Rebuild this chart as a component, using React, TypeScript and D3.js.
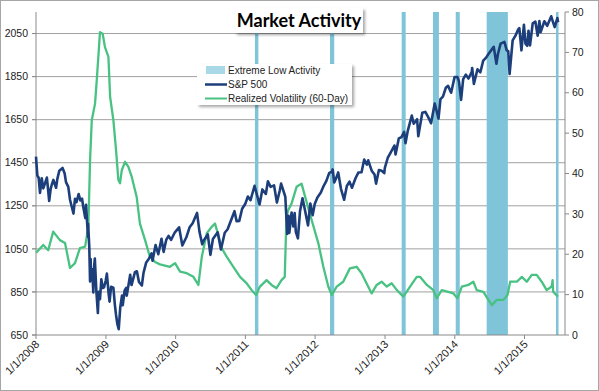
import * as d3 from "d3";

// S&P 500 closes (left axis)
const spx: [string, number][] = [
  ["2008-01-01", 1478], ["2008-01-08", 1390], ["2008-01-15", 1380], ["2008-01-22", 1310],
  ["2008-01-31", 1378], ["2008-02-08", 1331], ["2008-02-15", 1349], ["2008-02-27", 1381],
  ["2008-03-10", 1273], ["2008-03-18", 1330], ["2008-03-24", 1349], ["2008-04-01", 1370],
  ["2008-04-15", 1334], ["2008-04-22", 1376], ["2008-05-02", 1413], ["2008-05-19", 1426],
  ["2008-05-30", 1400], ["2008-06-06", 1360], ["2008-06-18", 1338], ["2008-06-27", 1278],
  ["2008-07-15", 1214], ["2008-07-23", 1282], ["2008-07-31", 1267], ["2008-08-11", 1305],
  ["2008-08-20", 1275], ["2008-08-29", 1283], ["2008-09-05", 1242], ["2008-09-15", 1193],
  ["2008-09-19", 1255], ["2008-09-29", 1106], ["2008-09-30", 1166], ["2008-10-06", 1056],
  ["2008-10-10", 899], ["2008-10-13", 1003], ["2008-10-15", 908], ["2008-10-21", 955],
  ["2008-10-27", 848], ["2008-10-31", 968], ["2008-11-04", 1005], ["2008-11-12", 852],
  ["2008-11-20", 752], ["2008-11-24", 851], ["2008-12-01", 816], ["2008-12-08", 909],
  ["2008-12-15", 868], ["2008-12-22", 871], ["2008-12-31", 903],
  ["2009-01-06", 935], ["2009-01-15", 843], ["2009-01-20", 805], ["2009-01-28", 874],
  ["2009-02-09", 870], ["2009-02-17", 789], ["2009-02-23", 743], ["2009-03-02", 700],
  ["2009-03-09", 677], ["2009-03-17", 778], ["2009-03-26", 833], ["2009-03-30", 788],
  ["2009-04-09", 857], ["2009-04-17", 869], ["2009-04-20", 833], ["2009-05-08", 930],
  ["2009-05-15", 882], ["2009-06-02", 942], ["2009-06-12", 946], ["2009-06-23", 896],
  ["2009-07-08", 880], ["2009-07-17", 940], ["2009-07-31", 987], ["2009-08-14", 1004],
  ["2009-08-28", 1029], ["2009-09-02", 995], ["2009-09-18", 1068], ["2009-10-02", 1025],
  ["2009-10-19", 1097], ["2009-10-30", 1036], ["2009-11-13", 1093], ["2009-11-25", 1110],
  ["2009-12-08", 1092], ["2009-12-28", 1127],
  ["2010-01-19", 1150], ["2010-02-05", 1066], ["2010-02-26", 1104], ["2010-03-15", 1150],
  ["2010-03-31", 1169], ["2010-04-23", 1217], ["2010-05-06", 1128], ["2010-05-20", 1071],
  ["2010-05-28", 1089], ["2010-06-18", 1117], ["2010-07-02", 1022], ["2010-07-15", 1096],
  ["2010-08-09", 1127], ["2010-08-26", 1047], ["2010-09-15", 1125], ["2010-09-30", 1141],
  ["2010-10-15", 1176], ["2010-11-05", 1225], ["2010-11-16", 1178], ["2010-11-30", 1180],
  ["2010-12-15", 1236], ["2010-12-31", 1258],
  ["2011-01-14", 1293], ["2011-01-28", 1276], ["2011-02-18", 1343], ["2011-03-01", 1306],
  ["2011-03-16", 1256], ["2011-03-31", 1326], ["2011-04-18", 1305], ["2011-04-29", 1364],
  ["2011-05-13", 1338], ["2011-05-31", 1345], ["2011-06-15", 1265], ["2011-06-30", 1321],
  ["2011-07-07", 1353], ["2011-07-29", 1292], ["2011-08-08", 1119], ["2011-08-15", 1204],
  ["2011-08-19", 1124], ["2011-08-31", 1219], ["2011-09-09", 1154], ["2011-09-16", 1216],
  ["2011-09-22", 1129], ["2011-10-03", 1099], ["2011-10-14", 1225], ["2011-10-27", 1285],
  ["2011-11-09", 1229], ["2011-11-25", 1159], ["2011-12-07", 1261], ["2011-12-19", 1206],
  ["2011-12-30", 1258],
  ["2012-01-13", 1289], ["2012-01-31", 1312], ["2012-02-15", 1343], ["2012-02-29", 1366],
  ["2012-03-15", 1403], ["2012-03-30", 1408], ["2012-04-02", 1419], ["2012-04-10", 1358],
  ["2012-04-20", 1378], ["2012-05-01", 1405], ["2012-05-15", 1330], ["2012-06-01", 1278],
  ["2012-06-15", 1342], ["2012-06-29", 1362], ["2012-07-12", 1334], ["2012-07-31", 1379],
  ["2012-08-15", 1405], ["2012-08-31", 1406], ["2012-09-14", 1465], ["2012-09-28", 1441],
  ["2012-10-05", 1461], ["2012-10-23", 1413], ["2012-11-07", 1395], ["2012-11-15", 1353],
  ["2012-11-30", 1416], ["2012-12-14", 1413], ["2012-12-28", 1402], ["2012-12-31", 1426],
  ["2013-01-15", 1472], ["2013-01-31", 1498], ["2013-02-19", 1530], ["2013-02-25", 1488],
  ["2013-03-14", 1563], ["2013-03-28", 1569], ["2013-04-11", 1593], ["2013-04-18", 1541],
  ["2013-04-30", 1598], ["2013-05-21", 1669], ["2013-05-31", 1631], ["2013-06-18", 1652],
  ["2013-06-24", 1573], ["2013-07-15", 1682], ["2013-07-31", 1686], ["2013-08-15", 1662],
  ["2013-08-30", 1633], ["2013-09-18", 1725], ["2013-10-08", 1655], ["2013-10-18", 1745],
  ["2013-10-31", 1757], ["2013-11-15", 1798], ["2013-11-27", 1807], ["2013-12-13", 1775],
  ["2013-12-31", 1848],
  ["2014-01-15", 1848], ["2014-01-23", 1828], ["2014-02-03", 1742], ["2014-02-14", 1838],
  ["2014-02-28", 1859], ["2014-03-14", 1841], ["2014-03-31", 1872], ["2014-04-02", 1890],
  ["2014-04-11", 1816], ["2014-04-30", 1884], ["2014-05-15", 1870], ["2014-05-30", 1924],
  ["2014-06-13", 1937], ["2014-06-30", 1960], ["2014-07-24", 1988], ["2014-08-07", 1910],
  ["2014-08-15", 1955], ["2014-08-29", 2003], ["2014-09-18", 2011], ["2014-09-30", 1972],
  ["2014-10-08", 1968], ["2014-10-15", 1862], ["2014-10-31", 2018], ["2014-11-14", 2039],
  ["2014-11-28", 2068], ["2014-12-05", 2075], ["2014-12-16", 1972], ["2014-12-29", 2091],
  ["2015-01-06", 2003], ["2015-01-15", 1993], ["2015-01-22", 2063], ["2015-01-30", 1995],
  ["2015-02-13", 2097], ["2015-02-27", 2105], ["2015-03-11", 2040], ["2015-03-20", 2108],
  ["2015-03-26", 2056], ["2015-04-15", 2107], ["2015-04-30", 2086], ["2015-05-21", 2130],
  ["2015-05-29", 2107], ["2015-06-08", 2080], ["2015-06-22", 2122], ["2015-06-26", 2102],
];

// realized volatility, 60-day (right axis)
const vol: [string, number][] = [
  ["2008-01-02", 20.4], ["2008-02-08", 22.3], ["2008-03-05", 21], ["2008-03-31", 25.6],
  ["2008-05-05", 23.5], ["2008-06-01", 22.8], ["2008-06-27", 16.6], ["2008-07-23", 17.8],
  ["2008-08-18", 21.5], ["2008-09-14", 21.9], ["2008-10-01", 26.8], ["2008-10-10", 43.3],
  ["2008-10-19", 53.2], ["2008-11-05", 57.3], ["2008-11-14", 63.1], ["2008-12-01", 75],
  ["2008-12-15", 74.6], ["2008-12-27", 71.3], ["2009-01-14", 68.9], ["2009-01-23", 59],
  ["2009-02-09", 53.2], ["2009-02-23", 45.8], ["2009-03-07", 38.4], ["2009-03-16", 37.6],
  ["2009-03-25", 40.8], ["2009-04-11", 42.9], ["2009-04-28", 41.7], ["2009-05-16", 39.2],
  ["2009-06-11", 34.2], ["2009-06-28", 27.6], ["2009-07-25", 23.5], ["2009-08-19", 19.4],
  ["2009-09-15", 18.1], ["2009-10-11", 17.5], ["2009-12-02", 16.9], ["2009-12-29", 17.8],
  ["2010-01-24", 15.7], ["2010-02-28", 15.3], ["2010-04-04", 14.4], ["2010-04-30", 12.4],
  ["2010-05-18", 19.4], ["2010-06-13", 25.2], ["2010-07-09", 26.8], ["2010-07-26", 27.6],
  ["2010-08-12", 24.8], ["2010-08-30", 21.5], ["2010-09-25", 19.4], ["2010-10-30", 16.9],
  ["2010-12-04", 14.4], ["2011-01-08", 12.8], ["2011-02-03", 11.1], ["2011-02-26", 9.9],
  ["2011-03-18", 12], ["2011-04-22", 13.6], ["2011-05-18", 12.4], ["2011-06-13", 11.6],
  ["2011-07-09", 13.6], ["2011-07-26", 14.4], ["2011-08-04", 29.3], ["2011-08-13", 30.9],
  ["2011-08-31", 32.6], ["2011-09-26", 36.7], ["2011-10-22", 37.5], ["2011-12-04", 30.1],
  ["2012-01-18", 22.7], ["2012-02-13", 16.9], ["2012-03-10", 12], ["2012-03-28", 9.9],
  ["2012-04-23", 12], ["2012-05-27", 13.2], ["2012-07-01", 16.5], ["2012-08-05", 16.9],
  ["2012-08-31", 15.3], ["2012-09-26", 12.8], ["2012-10-23", 10.3], ["2012-11-18", 12.4],
  ["2012-12-14", 13.2], ["2013-01-10", 12], ["2013-02-05", 12.8], ["2013-03-04", 11.1],
  ["2013-04-07", 9.5], ["2013-05-12", 12], ["2013-06-16", 14.4], ["2013-07-03", 14.4],
  ["2013-08-08", 12.4], ["2013-09-11", 11.1], ["2013-09-29", 9.1], ["2013-10-25", 11.1],
  ["2013-11-28", 10.7], ["2013-12-25", 10.3], ["2014-01-15", 9.1], ["2014-02-07", 12],
  ["2014-03-13", 12.4], ["2014-04-08", 13.2], ["2014-04-26", 11.1], ["2014-05-31", 10.7],
  ["2014-06-26", 8.7], ["2014-07-14", 7.4], ["2014-08-09", 8.7], ["2014-09-13", 8.7],
  ["2014-10-04", 9.9], ["2014-10-18", 13.2], ["2014-11-22", 13.2], ["2014-12-18", 14.4],
  ["2015-01-13", 13.2], ["2015-02-08", 14.9], ["2015-03-06", 14.9], ["2015-04-01", 13.2],
  ["2015-04-27", 11.1], ["2015-05-23", 12], ["2015-05-28", 13.6], ["2015-05-31", 10.7],
  ["2015-06-25", 9.5],
];

// periods of extreme low activity (shaded)
const lowActivity: [string, string][] = [
  ["2011-02-20", "2011-03-10"],
  ["2012-03-19", "2012-04-10"],
  ["2013-03-29", "2013-04-19"],
  ["2013-09-09", "2013-10-10"],
  ["2014-01-06", "2014-01-27"],
  ["2014-06-17", "2014-10-06"],
  ["2015-06-15", "2015-06-27"],
];

const leftTicks = [650, 850, 1050, 1250, 1450, 1650, 1850, 2050];
const rightTicks = [0, 10, 20, 30, 40, 50, 60, 70, 80];
const yearTicks = ["2008-01-01", "2009-01-01", "2010-01-01", "2011-01-01", "2012-01-01", "2013-01-01", "2014-01-01", "2015-01-01"];

const parse = d3.timeParse("%Y-%m-%d");
const fmt = d3.timeFormat("%-m/%-d/%Y");

export default function App() {
  const width = 599;
  const height = 391;
  const m = { left: 36, right: 565, top: 12, bottom: 335 };

  const x = d3
    .scaleTime()
    .domain([parse("2008-01-01")!, parse("2015-08-01")!])
    .range([m.left, m.right]);
  const yL = d3.scaleLinear().domain([650, 2150]).range([m.bottom, m.top]);
  const yR = d3.scaleLinear().domain([0, 80]).range([m.bottom, m.top]);

  const spxLine = d3
    .line<[string, number]>()
    .x((d) => x(parse(d[0])!))
    .y((d) => yL(d[1]));
  const volLine = d3
    .line<[string, number]>()
    .x((d) => x(parse(d[0])!))
    .y((d) => yR(d[1]));

  const font = "'Liberation Sans', Arial, sans-serif";

  return (
    <>
      <style>{`body{margin:0}`}</style>
      <svg width={width} height={height} style={{ display: "block", background: "#fff" }} fontFamily={font}>
        <defs>
          <filter id="shadow" x="-10%" y="-20%" width="130%" height="160%">
            <feDropShadow dx="2" dy="2" stdDeviation="1.5" floodColor="#000" floodOpacity="0.35" />
          </filter>
        </defs>
        <rect x={0.5} y={0.5} width={width - 1} height={height - 1} fill="#fff" stroke="#a6a6a6" />

        {/* gridlines */}
        {leftTicks.slice(1).map((t) => (
          <line key={t} x1={m.left - 4} x2={m.right} y1={yL(t)} y2={yL(t)} stroke="#a0a0a0" strokeWidth={1} />
        ))}

        {/* low-activity bands */}
        {lowActivity.map(([a, b]) => (
          <rect
            key={a}
            x={x(parse(a)!)}
            width={Math.max(2.5, x(parse(b)!) - x(parse(a)!))}
            y={m.top}
            height={m.bottom - m.top}
            fill="#7fc4d8"
          />
        ))}

        {/* axes */}
        <line x1={m.left} x2={m.left} y1={m.top} y2={m.bottom} stroke="#8a8a8a" />
        <line x1={m.right} x2={m.right} y1={m.top} y2={m.bottom} stroke="#8a8a8a" />
        <line x1={m.left - 4} x2={m.right} y1={m.bottom} y2={m.bottom} stroke="#8a8a8a" />
        {leftTicks.map((t) => (
          <g key={t}>
            <line x1={m.left - 4} x2={m.left} y1={yL(t)} y2={yL(t)} stroke="#8a8a8a" />
            <text x={28} y={yL(t)} dy="0.35em" textAnchor="end" fontSize={10.5} fill="#222">
              {t}
            </text>
          </g>
        ))}
        {rightTicks.map((t) => (
          <g key={t}>
            <line x1={m.right} x2={m.right + 4} y1={yR(t)} y2={yR(t)} stroke="#8a8a8a" />
            <text x={572} y={yR(t)} dy="0.35em" textAnchor="start" fontSize={10.5} fill="#222">
              {t}
            </text>
          </g>
        ))}
        {yearTicks.map((d) => {
          const px = x(parse(d)!);
          return (
            <g key={d}>
              <line x1={px} x2={px} y1={m.bottom} y2={m.bottom + 4} stroke="#8a8a8a" />
              <text
                transform={`translate(${px + 4},${m.bottom + 10}) rotate(-45)`}
                textAnchor="end"
                fontSize={11}
                fill="#222"
              >
                {fmt(parse(d)!)}
              </text>
            </g>
          );
        })}

        {/* series */}
        <path d={volLine(vol)!} fill="none" stroke="#48c282" strokeWidth={2.3} strokeLinejoin="round" />
        <path d={spxLine(spx)!} fill="none" stroke="#1c3e7a" strokeWidth={2.6} strokeLinejoin="round" />

        {/* title */}
        <rect x={235} y={8} width={128} height={25} fill="#fff" filter="url(#shadow)" />
        <text
          x={299}
          y={27}
          textAnchor="middle"
          fontFamily="Lato, 'Open Sans', sans-serif"
          fontWeight="bold"
          fontSize={18}
          fill="#000"
        >
          Market Activity
        </text>

        {/* legend */}
        <rect x={197} y={64} width={155} height={41} fill="#fff" filter="url(#shadow)" />
        <rect x={206} y={66} width={19} height={8} fill="#a9d8e6" />
        <text x={228} y={70} dy="0.35em" fontSize={10} fill="#222">Extreme Low Activity</text>
        <line x1={205} x2={227} y1={84.5} y2={84.5} stroke="#1c3e7a" strokeWidth={2.5} />
        <text x={228} y={84.5} dy="0.35em" fontSize={10} fill="#222">S&amp;P 500</text>
        <line x1={205} x2={227} y1={98.5} y2={98.5} stroke="#48c282" strokeWidth={2} />
        <text x={228} y={98.5} dy="0.35em" fontSize={10} fill="#222">Realized Volatility (60-Day)</text>
      </svg>
    </>
  );
}
